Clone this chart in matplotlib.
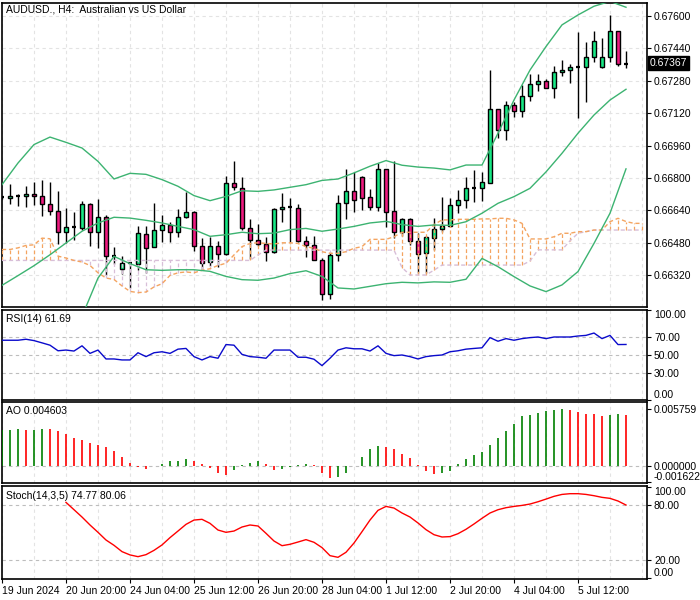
import matplotlib
matplotlib.use("Agg")
import matplotlib.pyplot as plt
import matplotlib.transforms as mtransforms
import numpy as np
from matplotlib.patches import Rectangle

plt.rcParams["font.family"] = ["Liberation Sans", "DejaVu Sans"]

# AUDUSD H4 candles, one entry per bar
opens = [0.66705, 0.66701, 0.66711, 0.66713, 0.66721, 0.66711, 0.66672, 0.66637, 0.66535, 0.66556,
         0.66551, 0.66672, 0.66533, 0.66607, 0.66413, 0.66351, 0.66380, 0.66375, 0.66523, 0.66459,
         0.66545, 0.66566, 0.66533, 0.66607, 0.66632, 0.66464, 0.66387, 0.66466, 0.66425, 0.66775,
         0.66749, 0.66553, 0.66492, 0.66474, 0.66435, 0.66647, 0.66657, 0.66652, 0.66489, 0.66469,
         0.66397, 0.66227, 0.66420, 0.66677, 0.66737, 0.66805, 0.66706, 0.66657, 0.66844, 0.66637,
         0.66533, 0.66598, 0.66489, 0.66430, 0.66502, 0.66547, 0.66563, 0.66665, 0.66690, 0.66749,
         0.66749, 0.66777, 0.67139, 0.67037, 0.67162, 0.67131, 0.67207, 0.67263, 0.67277, 0.67243,
         0.67322, 0.67333, 0.67350, 0.67350, 0.67396, 0.67350, 0.67396, 0.67526, 0.67361]
highs = [0.66712, 0.66772, 0.66721, 0.66762, 0.66779, 0.66792, 0.66779, 0.66737, 0.66654, 0.66634,
         0.66685, 0.66677, 0.66696, 0.66617, 0.66458, 0.66416, 0.66385, 0.66561, 0.66561, 0.66678,
         0.66619, 0.66581, 0.66647, 0.66729, 0.66637, 0.66504, 0.66509, 0.66491, 0.66812, 0.66886,
         0.66805, 0.66598, 0.66573, 0.66507, 0.66650, 0.66726, 0.66701, 0.66673, 0.66515, 0.66515,
         0.66405, 0.66433, 0.66718, 0.66844, 0.66828, 0.66808, 0.66746, 0.66874, 0.66846, 0.66886,
         0.66604, 0.66604, 0.66528, 0.66515, 0.66601, 0.66705, 0.66700, 0.66741, 0.66807, 0.66840,
         0.66831, 0.67333, 0.67141, 0.67180, 0.67177, 0.67259, 0.67314, 0.67314, 0.67287, 0.67353,
         0.67383, 0.67363, 0.67523, 0.67473, 0.67526, 0.67493, 0.67605, 0.67528, 0.67427]
lows = [0.66698, 0.66673, 0.66663, 0.66657, 0.66667, 0.66611, 0.66616, 0.66474, 0.66477, 0.66492,
        0.66545, 0.66463, 0.66454, 0.66323, 0.66375, 0.66328, 0.66257, 0.66347, 0.66331, 0.66459,
        0.66486, 0.66486, 0.66507, 0.66602, 0.66438, 0.66347, 0.66364, 0.66361, 0.66420, 0.66742,
        0.66545, 0.66400, 0.66465, 0.66389, 0.66430, 0.66581, 0.66482, 0.66482, 0.66408, 0.66395,
        0.66196, 0.66202, 0.66392, 0.66598, 0.66630, 0.66644, 0.66640, 0.66635, 0.66556, 0.66504,
        0.66512, 0.66471, 0.66331, 0.66331, 0.66444, 0.66535, 0.66560, 0.66626, 0.66650, 0.66683,
        0.66688, 0.66774, 0.66996, 0.66988, 0.67103, 0.67103, 0.67182, 0.67231, 0.67243, 0.67197,
        0.67305, 0.67268, 0.67095, 0.67177, 0.67374, 0.67342, 0.67374, 0.67355, 0.67345]
closes = [0.66705, 0.66711, 0.66711, 0.66721, 0.66713, 0.66672, 0.66637, 0.66535, 0.66558, 0.66556,
          0.66672, 0.66533, 0.66607, 0.66415, 0.66413, 0.66382, 0.66380, 0.66528, 0.66454, 0.66545,
          0.66566, 0.66535, 0.66607, 0.66632, 0.66464, 0.66380, 0.66464, 0.66425, 0.66775, 0.66756,
          0.66553, 0.66495, 0.66474, 0.66435, 0.66647, 0.66657, 0.66657, 0.66489, 0.66469, 0.66397,
          0.66227, 0.66420, 0.66677, 0.66737, 0.66693, 0.66700, 0.66657, 0.66844, 0.66632, 0.66533,
          0.66598, 0.66489, 0.66426, 0.66509, 0.66547, 0.66563, 0.66665, 0.66690, 0.66749, 0.66749,
          0.66779, 0.67139, 0.67037, 0.67162, 0.67131, 0.67207, 0.67263, 0.67277, 0.67246, 0.67322,
          0.67333, 0.67347, 0.67350, 0.67396, 0.67475, 0.67396, 0.67526, 0.67361, 0.67367]

# Bollinger bands, read every second bar (lower band from bar 10)
bb_upper = [0.66767, 0.66874, 0.66965, 0.67002, 0.66976, 0.66948, 0.66882, 0.66795, 0.66823, 0.66818,
            0.66792, 0.66759, 0.66713, 0.66688, 0.66709, 0.66737, 0.66734, 0.66741, 0.66754, 0.66767,
            0.66788, 0.66795, 0.66825, 0.66858, 0.66886, 0.66863, 0.66854, 0.66849, 0.66840, 0.66864,
            0.66864, 0.67021, 0.67185, 0.67333, 0.67449, 0.67556, 0.67605, 0.67648, 0.67672, 0.67643]
bb_mid = [0.66270, 0.66318, 0.66367, 0.66421, 0.66479, 0.66537, 0.66578, 0.66606, 0.66602, 0.66591,
          0.66578, 0.66561, 0.66545, 0.66512, 0.66520, 0.66532, 0.66525, 0.66528, 0.66545, 0.66551,
          0.66537, 0.66548, 0.66561, 0.66578, 0.66586, 0.66570, 0.66561, 0.66568, 0.66566, 0.66584,
          0.66626, 0.66675, 0.66708, 0.66749, 0.66830, 0.66922, 0.67021, 0.67111, 0.67185, 0.67238]
bb_lower = [0.66117, 0.66306, 0.66413, 0.66377, 0.66347, 0.66344, 0.66347, 0.66347, 0.66339, 0.66314,
            0.66298, 0.66295, 0.66306, 0.66328, 0.66342, 0.66314, 0.66257, 0.66252, 0.66265, 0.66278,
            0.66285, 0.66282, 0.66287, 0.66285, 0.66300, 0.66403, 0.66362, 0.66313, 0.66267, 0.66239,
            0.66272, 0.66338, 0.66477, 0.66626, 0.66845]

# Ichimoku cloud spans (run two bars past the last candle)
span_a = [0.66447, 0.66447, 0.66455, 0.66467, 0.66470, 0.66503, 0.66500, 0.66414, 0.66405, 0.66393,
          0.66385, 0.66368, 0.66332, 0.66306, 0.66299, 0.66267, 0.66240, 0.66234, 0.66237, 0.66262,
          0.66278, 0.66319, 0.66332, 0.66336, 0.66332, 0.66344, 0.66352, 0.66368, 0.66379, 0.66420,
          0.66461, 0.66477, 0.66480, 0.66477, 0.66474, 0.66480, 0.66480, 0.66477, 0.66461, 0.66453,
          0.66436, 0.66428, 0.66428, 0.66436, 0.66453, 0.66461, 0.66497, 0.66497, 0.66497, 0.66510,
          0.66532, 0.66532, 0.66532, 0.66532, 0.66570, 0.66593, 0.66593, 0.66596, 0.66596, 0.66596,
          0.66598, 0.66598, 0.66601, 0.66601, 0.66593, 0.66576, 0.66499, 0.66499, 0.66499, 0.66510,
          0.66527, 0.66527, 0.66535, 0.66535, 0.66543, 0.66543, 0.66584, 0.66601, 0.66585, 0.66576,
          0.66576]
span_b = [0.66393, 0.66393, 0.66393, 0.66393, 0.66393, 0.66393, 0.66393, 0.66393, 0.66393, 0.66393,
          0.66393, 0.66393, 0.66393, 0.66393, 0.66393, 0.66393, 0.66393, 0.66393, 0.66393, 0.66393,
          0.66393, 0.66393, 0.66393, 0.66393, 0.66393, 0.66393, 0.66393, 0.66393, 0.66393, 0.66393,
          0.66393, 0.66393, 0.66420, 0.66444, 0.66444, 0.66444, 0.66444, 0.66444, 0.66444, 0.66444,
          0.66444, 0.66444, 0.66444, 0.66444, 0.66444, 0.66444, 0.66444, 0.66444, 0.66444, 0.66444,
          0.66358, 0.66321, 0.66321, 0.66321, 0.66345, 0.66370, 0.66370, 0.66370, 0.66370, 0.66370,
          0.66370, 0.66370, 0.66370, 0.66370, 0.66370, 0.66370, 0.66390, 0.66445, 0.66445, 0.66445,
          0.66445, 0.66490, 0.66527, 0.66535, 0.66543, 0.66543, 0.66543, 0.66543, 0.66543, 0.66543,
          0.66543]

rsi = [66.4, 66.4, 66.4, 67.5, 66.0, 63.5, 60.9, 54.7, 55.5, 54.4,
       60.2, 51.8, 55.5, 45.6, 45.6, 44.5, 44.5, 52.5, 48.2, 52.5,
       53.6, 51.8, 56.5, 57.3, 48.2, 44.5, 48.2, 46.4, 61.6, 60.9,
       50.7, 48.2, 47.5, 46.4, 55.5, 55.5, 55.5, 47.5, 47.5, 45.3,
       38.2, 46.4, 55.5, 58.0, 56.9, 56.9, 54.4, 60.2, 51.8, 49.3,
       50.0, 48.2, 45.6, 48.2, 49.3, 50.0, 53.6, 54.7, 56.5, 57.3,
       58.0, 69.3, 65.3, 68.2, 66.4, 68.2, 69.3, 70.0, 68.2, 70.0,
       70.0, 70.0, 71.1, 71.8, 74.4, 68.2, 71.8, 61.6, 61.7]

ao = [0.003600, 0.003637, 0.003738, 0.003637, 0.003671, 0.003738, 0.003720, 0.003536, 0.003233, 0.002795,
      0.002593, 0.002358, 0.002122, 0.001920, 0.001516, 0.000909, 0.000303, -0.000135, -0.000269, 0.000030,
      0.000236, 0.000539, 0.000550, 0.000707, 0.000539, 0.000202, -0.000236, -0.000674, -0.000909, -0.000370,
      0.000070, 0.000300, 0.000540, 0.000200, -0.000400, -0.000300, -0.000100, 0.000100, 0.000200, 0.000100,
      -0.000674, -0.001179, -0.001150, -0.000674, 0.000020, 0.000909, 0.001718, 0.002021, 0.001920, 0.001718,
      0.001212, 0.000808, 0.000101, -0.000472, -0.000775, -0.000674, -0.000472, 0.000202, 0.000707, 0.001111,
      0.001415, 0.002122, 0.002829, 0.003536, 0.004277, 0.005052, 0.005153, 0.005355, 0.005557, 0.005658,
      0.005759, 0.005658, 0.005490, 0.005254, 0.005220, 0.005052, 0.005153, 0.005254, 0.005153]

# stochastic line starts at bar 8
stoch = [82.9, 74.9, 66.9, 58.2, 50.2, 41.8, 36.0, 29.1, 25.5, 23.6,
         25.8, 30.5, 36.4, 44.4, 51.6, 58.9, 63.6, 64.4, 60.0, 52.7,
         50.2, 51.6, 56.0, 58.2, 57.1, 49.1, 40.7, 35.6, 37.1, 39.6,
         42.2, 39.3, 33.5, 24.7, 22.9, 28.4, 38.5, 50.9, 63.6, 74.2,
         78.5, 76.7, 71.3, 66.9, 60.4, 53.1, 47.6, 45.1, 45.5, 48.7,
         53.5, 59.3, 65.5, 71.3, 74.9, 77.1, 78.5, 79.6, 81.1, 83.6,
         86.5, 89.5, 91.6, 92.4, 92.4, 91.6, 90.2, 88.4, 87.3, 84.4,
         80.0]

date_labels = ["19 Jun 2024", "20 Jun 20:00", "24 Jun 04:00", "25 Jun 12:00", "26 Jun 20:00",
               "28 Jun 04:00", "1 Jul 12:00", "2 Jul 20:00", "4 Jul 04:00", "5 Jul 12:00"]
price_ticks = [0.66320, 0.66480, 0.66640, 0.66800, 0.66960, 0.67120, 0.67280, 0.67440, 0.67600]

BULL = "#17E884"
BEAR = "#EE1A80"
BB_COL = "#3CB371"
SPAN_A = "#F4A460"
SPAN_B = "#D8BFD8"
GRID = "#E3E3E3"
LEVEL = "#BDBDBD"
FS = 7.5

W, H = 700, 600
fig = plt.figure(figsize=(7, 6), dpi=100)


def panel(top, bottom):
    ax = fig.add_axes([2 / W, 1 - bottom / H, 645 / W, (bottom - top) / H])
    ax.set_xlim(0, 80.625)
    for sp in ax.spines.values():
        sp.set_linewidth(1.2)
        sp.set_color("black")
    ax.yaxis.tick_right()
    ax.tick_params(axis="y", direction="out", length=3, width=0.8, pad=2,
                   labelsize=FS, left=False, labelleft=False)
    ax.tick_params(axis="x", bottom=False, labelbottom=False)
    for gx in range(0, 81, 4):
        ax.axvline(gx, color=GRID, lw=0.8, ls=(0, (3, 3)), zorder=0)
    return ax


def caption(ax, text, dy):
    ax.annotate(text, xy=(0, 1), xycoords="axes fraction", xytext=(4, -dy),
                textcoords="offset pixels", ha="left", va="center", fontsize=FS)


ax_p = panel(3, 307)
ax_r = panel(310, 400)
ax_a = panel(402, 483)
ax_s = panel(486, 579)

# ---- price panel
ax_p.set_ylim(0.66163, 0.67664)
ax_p.set_yticks(price_ticks, [f"{p:.5f}" for p in price_ticks])
for p in price_ticks:
    ax_p.axhline(p, color=GRID, lw=0.8, ls=(0, (3, 3)), zorder=0)

bars = np.arange(len(opens))
ax_p.vlines(bars, lows, highs, color="black", lw=1, zorder=3)
for i, (o, c) in enumerate(zip(opens, closes)):
    if abs(c - o) < 0.00007:
        ax_p.hlines((o + c) / 2, i - 0.3, i + 0.3, color="black", lw=1.6, zorder=4)
    else:
        ax_p.add_patch(Rectangle((i - 0.28, min(o, c)), 0.56, abs(c - o),
                                 facecolor=BULL if c > o else BEAR,
                                 edgecolor="black", lw=1, zorder=4))

cloud_x = np.arange(len(span_a))
for i, (a, b) in enumerate(zip(span_a, span_b)):
    ax_p.vlines(i, min(a, b), max(a, b), color=SPAN_A if a >= b else SPAN_B,
                lw=0.9, linestyles=[(0, (3, 2))], zorder=5)
ax_p.plot(cloud_x, span_b, color=SPAN_B, lw=1, ls=(0, (3, 2)), zorder=5)
ax_p.plot(cloud_x, span_a, color=SPAN_A, lw=1, ls=(0, (3, 2)), zorder=5)

ax_p.plot(np.arange(len(bb_upper)) * 2, bb_upper, color=BB_COL, lw=1, zorder=6)
ax_p.plot(np.arange(len(bb_mid)) * 2, bb_mid, color=BB_COL, lw=1, zorder=6)
ax_p.plot(10 + np.arange(len(bb_lower)) * 2, bb_lower, color=BB_COL, lw=1, zorder=6)

caption(ax_p, "AUDUSD., H4:  Australian vs US Dollar", 6)
blend = mtransforms.blended_transform_factory(ax_p.transAxes, ax_p.transData)
ax_p.text(1.0 + 3 / 645, closes[-1], f"{closes[-1]:.5f}", transform=blend,
          ha="left", va="center", color="white", fontsize=FS, zorder=10, clip_on=False,
          bbox=dict(boxstyle="square,pad=0.18", fc="black", ec="black"))

# ---- RSI
ax_r.set_ylim(0, 100)
ax_r.set_yticks([0, 30, 50, 70, 100], ["0.00", "30.00", "50.00", "70.00", "100.00"])
for lvl in (30, 50, 70):
    ax_r.axhline(lvl, color=LEVEL, lw=0.8, ls=(0, (3, 3)), zorder=1)
ax_r.plot(bars, rsi, color="#0A0ACC", lw=1, zorder=3)
caption(ax_r, "RSI(14) 61.69", 9)
rt = ax_r.yaxis.get_major_ticks()
rt[0].label2.set_va("bottom")
rt[-1].label2.set_va("top")

# ---- Awesome oscillator
ax_a.set_ylim(-0.00172, 0.006467)
ax_a.set_yticks([-0.001622, 0.0, 0.005759], ["-0.001622", "0.000000", "0.005759"])
ax_a.axhline(0, color=LEVEL, lw=0.8, ls=(0, (3, 3)), zorder=1)
ao_arr = np.array(ao)
ao_col = ["#008000"] + ["#008000" if d > 0 else "#FF0000" for d in np.diff(ao_arr)]
ax_a.vlines(bars, 0, ao_arr, colors=ao_col, lw=1.2, zorder=3)
caption(ax_a, "AO 0.004603", 9)
at = ax_a.yaxis.get_major_ticks()
at[0].label2.set_va("bottom")

# ---- Stochastic
ax_s.set_ylim(-0.8, 100.8)
ax_s.set_yticks([0, 20, 80, 100], ["0.00", "20.00", "80.00", "100.00"])
for lvl in (20, 80):
    ax_s.axhline(lvl, color=LEVEL, lw=0.8, ls=(0, (3, 3)), zorder=1)
ax_s.plot(8 + np.arange(len(stoch)), stoch, color="#FF0000", lw=1, zorder=3)
caption(ax_s, "Stoch(14,3,5) 74.77 80.06", 10)
st = ax_s.yaxis.get_major_ticks()
st[0].label2.set_va("bottom")
st[-1].label2.set_va("top")

ax_s.set_xticks(np.arange(len(date_labels)) * 8, date_labels)
ax_s.tick_params(axis="x", bottom=True, labelbottom=True, direction="out",
                 length=3, width=0.8, pad=2, labelsize=FS)
for t in ax_s.xaxis.get_major_ticks():
    t.label1.set_horizontalalignment("left")

fig.savefig("out.png", dpi=100)
